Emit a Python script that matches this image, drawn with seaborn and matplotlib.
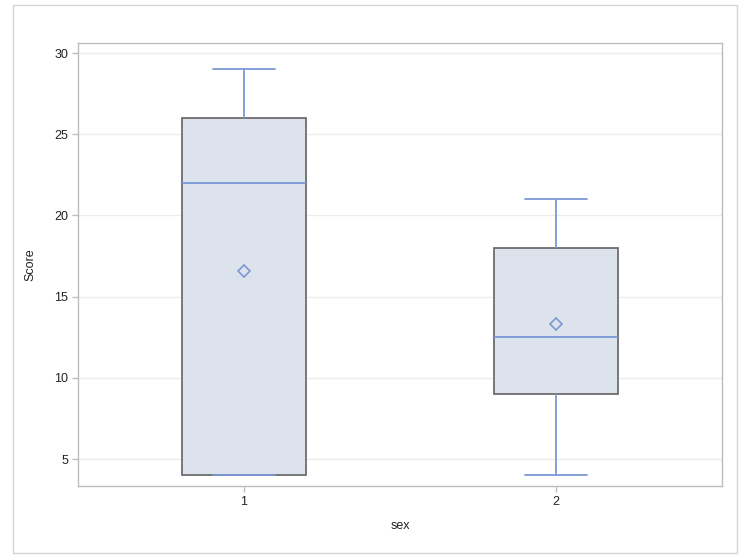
import numpy as np
import pandas as pd
import matplotlib
matplotlib.use("Agg")
import matplotlib.pyplot as plt
from matplotlib.patches import Rectangle
import seaborn as sns

# scores for each sex group (chosen to give the quartiles, whiskers and means seen in the chart)
sex_labels = ["1", "2"]
score_sex1 = [4, 4, 4, 10, 22, 23, 26, 27, 29]
score_sex2 = [4, 6, 9, 11, 12.5, 17.5, 18, 21, 21]
y_ticks = [5, 10, 15, 20, 25, 30]

df = pd.DataFrame({
    "sex": [sex_labels[0]] * len(score_sex1) + [sex_labels[1]] * len(score_sex2),
    "Score": score_sex1 + score_sex2,
})

sns.set_theme(style="white")
plt.rcParams["font.family"] = ["Liberation Sans", "DejaVu Sans"]

fill = "#dbe2ee"
edge = "#6d6d6d"
blue = "#7a98d4"

fig = plt.figure(figsize=(7.4, 5.57), dpi=100)
ax = fig.add_axes([78 / 740, 1 - 486 / 557, (722 - 78) / 740, (486 - 43) / 557])

sns.boxplot(data=df, x="sex", y="Score", order=sex_labels, ax=ax,
            width=0.4, color=fill, linecolor=edge, linewidth=1.3,
            showmeans=True, showfliers=False,
            meanprops=dict(marker="D", markersize=6, markerfacecolor="none",
                           markeredgecolor=blue, markeredgewidth=1.2),
            medianprops=dict(color=blue, linewidth=1.3),
            whiskerprops=dict(color=blue, linewidth=1.3),
            capprops=dict(color=blue, linewidth=1.3))

ax.set_xlim(-0.532, 1.532)
ax.set_ylim(3.34, 30.62)
ax.set_yticks(y_ticks)
ax.yaxis.grid(True, color="#ececec", linewidth=1)
ax.set_axisbelow(True)
for s in ax.spines.values():
    s.set_color("#bdbdbd")
    s.set_linewidth(1)
ax.tick_params(axis="both", which="both", direction="out", length=4, width=1,
               color="#bdbdbd", labelsize=9, labelcolor="#222222", pad=3,
               bottom=True, left=True)
ax.set_xlabel("sex", fontsize=9, color="#222222", labelpad=9)
ax.set_ylabel("Score", fontsize=9, color="#222222", labelpad=13)

fig.patches.append(Rectangle((13 / 740, 1 - 553 / 557), (737 - 13) / 740, (553 - 5) / 557,
                             transform=fig.transFigure, fill=False, ec="#d4d4d4", lw=1))

fig.savefig("out.png", dpi=100)
